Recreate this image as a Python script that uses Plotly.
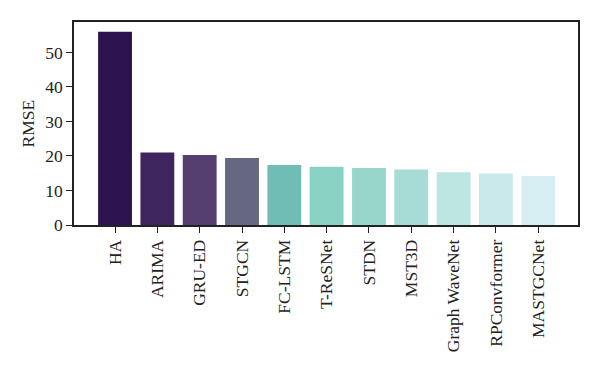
import plotly.graph_objects as go

models = ["HA", "ARIMA", "GRU-ED", "STGCN", "FC-LSTM", "T-ReSNet", "STDN",
          "MST3D", "Graph WaveNet", "RPConvformer", "MASTGCNet"]
rmse = [56.0, 21.0, 20.3, 19.4, 17.4, 16.9, 16.5, 16.1, 15.3, 14.95, 14.2]
bar_colors = ["#2d1450", "#3f255e", "#553e70", "#666780", "#70bdb6", "#89d1c3",
              "#98d6cb", "#a7dcd6", "#bde5e2", "#cae9ea", "#d6eef1"]

y_ticks = [0, 10, 20, 30, 40, 50]

font_family = "Liberation Serif"
fsize = 17.5

fig = go.Figure(go.Bar(
    x=models, y=rmse,
    marker=dict(color=bar_colors, line=dict(width=0)),
    width=0.8,
))

fig.update_layout(
    width=592, height=368,
    margin=dict(l=66, r=22, t=14, b=151),
    plot_bgcolor="white", paper_bgcolor="white",
    font=dict(family=font_family, size=fsize, color="#222222"),
    showlegend=False,
    bargap=0.2,
)
fig.update_xaxes(
    range=[-0.97, 10.94], automargin=False,
    showline=True, linecolor="#222222", linewidth=1.5, mirror=True,
    ticks="outside", ticklen=6, tickwidth=1.2, tickcolor="#222222",
    tickangle=-90, tickfont=dict(size=fsize, family=font_family),
    showgrid=False,
)
fig.update_yaxes(
    range=[0, 58.8], automargin=False,
    tickvals=y_ticks,
    showline=True, linecolor="#222222", linewidth=1.5, mirror=True,
    ticks="outside", ticklen=6, tickwidth=1.2, tickcolor="#222222",
    tickfont=dict(size=fsize, family=font_family),
    showgrid=False, zeroline=False,
)
fig.add_annotation(
    text="RMSE", xref="paper", yref="paper",
    x=(27 - 74) / 504, y=0.5, xanchor="center", yanchor="middle",
    textangle=-90, showarrow=False,
    font=dict(size=fsize, family=font_family, color="#222222"),
)

fig.write_html("out.html")
